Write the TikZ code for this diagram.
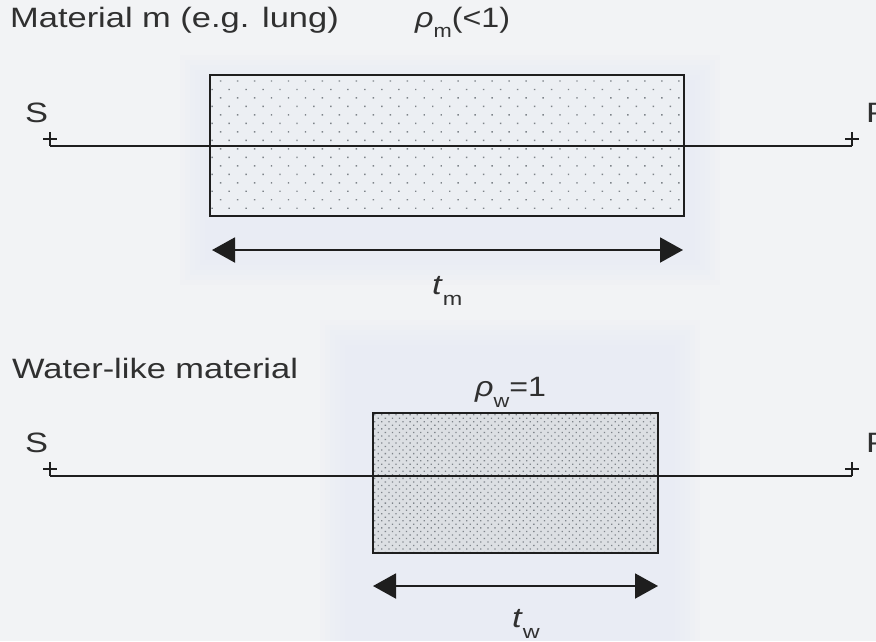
\documentclass[tikz,border=0pt]{standalone}
\usepackage{fontspec}
\setmainfont{Liberation Sans}
\usetikzlibrary{arrows.meta,patterns.meta}
\definecolor{bgc}{HTML}{F2F3F5}
\definecolor{haloc}{HTML}{E6ECF4}
\definecolor{txtc}{HTML}{303030}
\definecolor{linec}{HTML}{1E1E1E}
\definecolor{boxmfill}{HTML}{ECEFF3}
\definecolor{boxwfill}{HTML}{DCDFE3}
\definecolor{dotc}{HTML}{7E848A}
\newcommand{\WW}[1]{\scalebox{1.23}[1.0]{#1}}
\newcommand{\subsz}{\fontsize{19}{19}\selectfont}
\tikzset{
  lbl/.style={font=\fontsize{28}{30}\selectfont, text=txtc, inner sep=0pt, anchor=base west},
  boxm/.style={draw=linec, line width=2pt, inner sep=0pt, outer sep=0pt, anchor=north west,
    preaction={fill=boxmfill}, pattern={Dots[distance=12pt, angle=45, radius=1pt]}, pattern color=dotc},
  boxw/.style={draw=linec, line width=2pt, inner sep=0pt, outer sep=0pt, anchor=north west,
    preaction={fill=boxwfill}, pattern={Dots[distance=5pt, angle=45, radius=0.9pt]}, pattern color=dotc},
  beam/.style={draw=linec, line width=1.8pt},
  plusmark/.style={draw=linec, line width=1.4pt},
  dimarrow/.style={draw=linec, line width=2pt, {Triangle[length=23pt,width=25pt]}-{Triangle[length=23pt,width=25pt]}},
}
\begin{document}
\begin{tikzpicture}[x=1pt,y=-1pt]
\useasboundingbox (0,0) rectangle (876,641);
\fill[bgc] (0,0) rectangle (876,641);
% soft halos
\foreach \d in {0,5,10,15,20,25} {
  \fill[haloc, opacity=0.15] (180+\d,55+\d) rectangle (720-\d,285-\d);
  \fill[haloc, opacity=0.15] (320+\d,320+\d) rectangle (700-\d,641);
}
% ---------- top ----------
\node[lbl] (titlem) at (10,27) {\WW{Material m (e.g. lung)}};
\node[lbl] (rhom) at (415,27) {\scalebox{1.15}[1.0]{\textit{ρ}\raisebox{-10pt}{\subsz m}(<1)}};
\node[boxm, minimum width=474pt, minimum height=141pt] (bm) at (210,75) {};
\node[lbl] (S1) at (25,122) {\WW{S}};
\node[lbl] (P1) at (866,122) {\WW{P}};
\coordinate (s1) at (50,146);
\coordinate (p1) at (852,146);
\draw[beam] (s1) -- (p1);
\draw[plusmark] (43,139) -- (57,139) (50,132) -- (50,146);
\draw[plusmark] (845,139) -- (859,139) (852,132) -- (852,146);
\coordinate (am1) at (212,250);
\coordinate (am2) at (683,250);
\draw[dimarrow] (am1) -- (am2);
\node[lbl] (tm) at (432,294) {\WW{\textit{t}\raisebox{-11pt}{\subsz m}}};
% ---------- bottom ----------
\node[lbl] (titlew) at (12,378) {\WW{Water-like material}};
\node[lbl] (rhow) at (475,396) {\scalebox{1.15}[1.0]{\textit{ρ}\raisebox{-11pt}{\subsz w}=1}};
\node[boxw, minimum width=285pt, minimum height=140pt] (bw) at (373,413) {};
\node[lbl] (S2) at (25,452) {\WW{S}};
\node[lbl] (P2) at (866,452) {\WW{P}};
\coordinate (s2) at (50,476);
\coordinate (p2) at (852,476);
\draw[beam] (s2) -- (p2);
\draw[plusmark] (43,469) -- (57,469) (50,462) -- (50,476);
\draw[plusmark] (845,469) -- (859,469) (852,462) -- (852,476);
\coordinate (aw1) at (373,586);
\coordinate (aw2) at (658,586);
\draw[dimarrow] (aw1) -- (aw2);
\node[lbl] (tw) at (512,627) {\WW{\textit{t}\raisebox{-11pt}{\subsz w}}};
\end{tikzpicture}
\end{document}
